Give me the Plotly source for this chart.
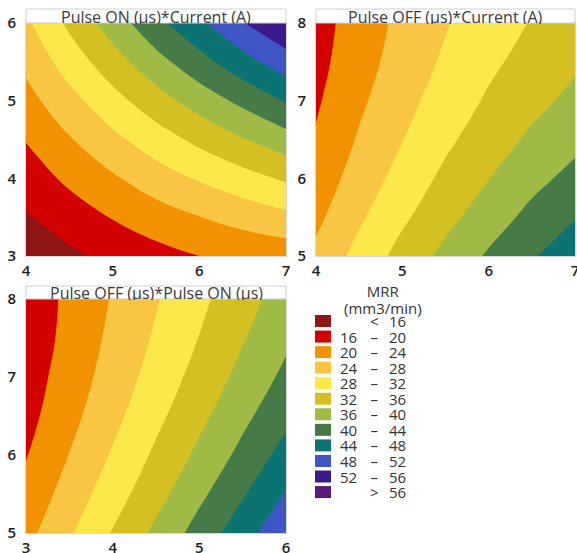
import plotly.graph_objects as go

W, H = 577, 553

# ---------------- data ----------------
levels = [16, 20, 24, 28, 32, 36, 40, 44, 48, 52, 56]
band_colors = ["#8e1716", "#d20000", "#f39200", "#f9c545", "#fde84b", "#d4c023",
               "#a0bb45", "#467b47", "#0b7372", "#3e56c5", "#3d1a8b", "#5b1a78"]
legend_title = ["MRR", "(mm3/min)"]
panel_titles = ["Pulse ON (µs)*Current (A)",
                "Pulse OFF (µs)*Current (A)",
                "Pulse OFF (µs)*Pulse ON (µs)"]

# Panel 1: x = Pulse ON, y = Current
p1_x = [4.0, 4.5, 5.0, 5.5, 6.0, 6.5, 7.0]
p1_y = [3.0, 3.5, 4.0, 4.5, 5.0, 5.5, 6.0]
p1_z = [
    [13.8, 15.2, 17.0, 18.6, 20.0, 20.9, 21.5],
    [15.6, 18.0, 20.2, 22.2, 23.9, 25.5, 27.0],
    [18.0, 20.8, 23.5, 26.1, 28.4, 30.5, 32.6],
    [20.2, 23.7, 27.0, 30.1, 33.0, 35.7, 38.4],
    [22.6, 26.7, 30.6, 34.3, 37.8, 41.0, 44.3],
    [25.0, 29.8, 34.3, 38.6, 42.6, 46.5, 50.2],
    [27.3, 32.8, 37.9, 42.9, 47.2, 51.8, 55.8],
]
p1_xticks = [4, 5, 6, 7]
p1_yticks = [3, 4, 5, 6]

# Panel 2: x = Current, y = Pulse OFF
p2_x = [4.0, 4.5, 5.0, 5.5, 6.0, 6.5, 7.0]
p2_y = [5.0, 5.5, 6.0, 6.5, 7.0, 7.5, 8.0]
p2_z = [
    [24.9, 29.3, 33.4, 37.1, 40.5, 43.6, 46.5],
    [23.1, 27.4, 31.3, 34.8, 38.1, 41.1, 43.8],
    [21.7, 25.7, 29.5, 32.9, 35.9, 38.8, 41.2],
    [20.4, 24.4, 27.9, 31.2, 34.1, 36.7, 38.9],
    [19.5, 23.3, 26.7, 29.8, 32.5, 34.9, 37.0],
    [18.8, 22.4, 25.7, 28.6, 31.2, 33.4, 35.4],
    [18.4, 21.9, 25.0, 27.7, 30.2, 32.2, 34.0],
]
p2_xticks = [4, 5, 6, 7]
p2_yticks = [5, 6, 7, 8]

# Panel 3: x = Pulse ON, y = Pulse OFF
p3_x = [3.0, 3.5, 4.0, 4.5, 5.0, 5.5, 6.0]
p3_y = [5.0, 5.5, 6.0, 6.5, 7.0, 7.5, 8.0]
p3_z = [
    [22.8, 27.5, 32.3, 36.9, 41.6, 46.3, 51.2],
    [21.1, 25.7, 30.2, 34.6, 39.1, 43.6, 48.3],
    [19.8, 24.1, 28.4, 32.7, 36.9, 41.1, 45.5],
    [18.7, 22.8, 26.9, 31.0, 35.0, 39.0, 43.0],
    [18.0, 21.9, 25.7, 29.6, 33.4, 37.2, 40.9],
    [17.5, 21.2, 24.9, 28.5, 32.1, 35.7, 39.2],
    [17.4, 20.9, 24.3, 27.7, 31.1, 34.5, 37.8],
]
p3_xticks = [3, 4, 5, 6]
p3_yticks = [5, 6, 7, 8]

# ---------------- helpers ----------------
def px(xp):
    return xp / W

def py(yp):
    return 1 - yp / H

n = len(band_colors)
colorscale = [[k / (n - 1), c] for k, c in enumerate(band_colors)]
step = levels[1] - levels[0]

panels = [
    dict(x=p1_x, y=p1_y, z=p1_z, xt=p1_xticks, yt=p1_yticks, box=(26, 286, 23, 256), tbox=9),
    dict(x=p2_x, y=p2_y, z=p2_z, xt=p2_xticks, yt=p2_yticks, box=(316, 575, 23, 256), tbox=9),
    dict(x=p3_x, y=p3_y, z=p3_z, xt=p3_xticks, yt=p3_yticks, box=(26, 286, 299, 533), tbox=286),
]

fig = go.Figure()
layout = dict(width=W, height=H, margin=dict(l=0, r=0, t=0, b=0),
              paper_bgcolor="white", plot_bgcolor="white", showlegend=False)
shapes = []
annotations = []
tickfont = dict(family="Open Sans", size=15, color="#1e1e1e", weight=600)

for i, p in enumerate(panels):
    k = "" if i == 0 else str(i + 1)
    fig.add_trace(go.Contour(
        x=p["x"], y=p["y"], z=p["z"],
        xaxis="x" + k, yaxis="y" + k,
        autocontour=False,
        contours=dict(start=levels[0], end=levels[-1], size=step,
                      coloring="fill", showlines=False),
        line=dict(width=0, smoothing=1.3),
        colorscale=colorscale, showscale=False, hoverinfo="skip",
    ))
    x0, x1, y0, y1 = p["box"]
    axx = dict(domain=[px(x0), px(x1)], range=[p["x"][0], p["x"][-1]],
               tickvals=p["xt"], ticks="", showgrid=False, zeroline=False,
               showline=True, linecolor="#d8d8d8", linewidth=1, mirror=True,
               tickfont=tickfont, ticklabelstandoff=1, automargin=False,
               ticklabeloverflow="allow", anchor="y" + k)
    axy = dict(domain=[py(y1), py(y0)], range=[p["y"][0], p["y"][-1]],
               tickvals=p["yt"], ticks="", showgrid=False, zeroline=False,
               showline=True, linecolor="#d8d8d8", linewidth=1, mirror=True,
               tickfont=tickfont, ticklabelstandoff=6, automargin=False,
               ticklabeloverflow="allow", anchor="x" + k)
    layout["xaxis" + k] = axx
    layout["yaxis" + k] = axy
    # title box
    ty0 = p["tbox"]
    shapes.append(dict(type="rect", xref="paper", yref="paper",
                       x0=px(x0), x1=px(x1), y0=py(y0), y1=py(ty0),
                       line=dict(color="#d0d0d0", width=1), fillcolor="white"))
    annotations.append(dict(text=panel_titles[i], xref="paper", yref="paper",
                            x=px((x0 + x1) / 2), y=py((ty0 + y0) / 2 + 0.5),
                            xanchor="center", yanchor="middle", showarrow=False,
                            height=14,
                            font=dict(family="Open Sans", size=16, color="#3a3a3a")))

# ---------------- legend (built from levels / colors) ----------------
row_h = 15.55
glyph = 15
nb = "\u00a0"

def block(lines, size):
    return "<br>".join('<span style="font-size:%dpx">%s</span>' % (size, s) for s in lines)

# title: two lines, ~16.5 px apart
annotations.append(dict(text=block(legend_title, glyph), xref="paper", yref="paper",
                        x=px(382.5), y=py(299.5), xanchor="center", yanchor="middle",
                        align="center", showarrow=False,
                        font=dict(family="Open Sans", size=16.5 / 1.3, color="#333333")))

low_col, mid_col, high_col = [], [], []
for j, col in enumerate(band_colors):
    top = 315 + row_h * j
    shapes.append(dict(type="rect", xref="paper", yref="paper",
                       x0=px(315), x1=px(331), y0=py(top + 12), y1=py(top),
                       line=dict(width=0), fillcolor=col))
    if j == 0:
        low_col.append(nb); mid_col.append("<"); high_col.append(str(levels[0]))
    elif j == n - 1:
        low_col.append(nb); mid_col.append(">"); high_col.append(str(levels[-1]))
    else:
        low_col.append(str(levels[j - 1])); mid_col.append("–"); high_col.append(str(levels[j]))

col_center = 315 + 6 + row_h * (n - 1) / 2
cfont = dict(family="Open Sans", size=row_h / 1.3, color="#333333")
for txt, xpos, anchor in [(low_col, 360, "right"), (mid_col, 374.5, "center"),
                          (high_col, 408.5, "right")]:
    annotations.append(dict(text=block(txt, glyph), xref="paper", yref="paper",
                            x=px(xpos), y=py(col_center), xanchor=anchor,
                            yanchor="middle", align=anchor, showarrow=False,
                            font=cfont))

layout["shapes"] = shapes
layout["annotations"] = annotations
fig.update_layout(**layout)
fig.write_html("out.html")
